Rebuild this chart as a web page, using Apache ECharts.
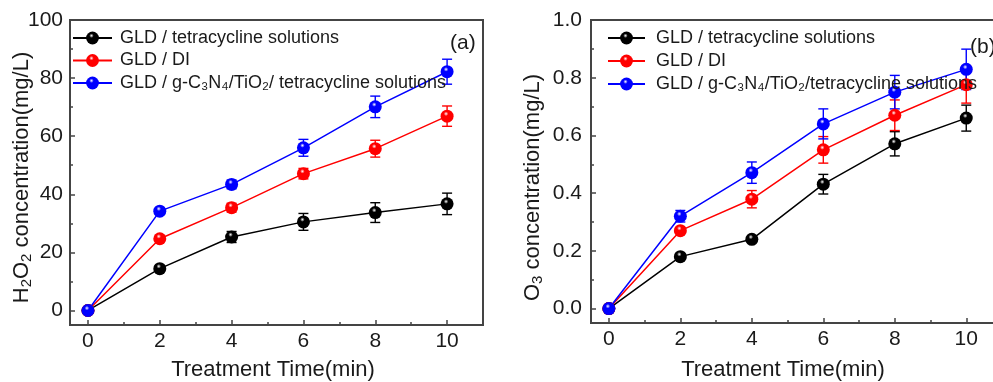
<!DOCTYPE html>
<html>
<head>
<meta charset="utf-8">
<script src="https://cdn.jsdelivr.net/npm/echarts@6/dist/echarts.min.js"></script>
<style>html,body{margin:0;padding:0;background:#fff}#c{width:993px;height:382px}</style>
</head>
<body>
<div id="c"></div>
<script>
// ---- data ----
const xValues = [0, 2, 4, 6, 8, 10];
const xTicks = [0, 2, 4, 6, 8, 10];
const xMinorTicks = [1, 3, 5, 7, 9];
const h2o2Ticks = [0, 20, 40, 60, 80, 100];
const h2o2MinorTicks = [10, 30, 50, 70, 90];
const o3Ticks = [0, 0.2, 0.4, 0.6, 0.8, 1.0];
const o3MinorTicks = [0.1, 0.3, 0.5, 0.7, 0.9];

const nameBlack = 'GLD / tetracycline solutions';
const nameRed = 'GLD / DI';
const nameBlueA = 'GLD / g-C\u2083N\u2084/TiO\u2082/ tetracycline solutions';
const nameBlueB = 'GLD / g-C\u2083N\u2084/TiO\u2082/tetracycline solutions';

const h2o2Black = [0, 14.4, 25.3, 30.5, 33.7, 36.7];
const h2o2BlackErr = [0.5, 1.0, 1.9, 2.9, 3.4, 3.7];
const h2o2Red = [0, 24.7, 35.4, 47.1, 55.7, 66.9];
const h2o2RedErr = [0.5, 1.0, 1.5, 1.8, 2.9, 3.5];
const h2o2Blue = [0, 34.2, 43.4, 56.0, 70.1, 82.2];
const h2o2BlueErr = [0.5, 1.0, 1.5, 2.9, 3.7, 4.3];

const o3Black = [0, 0.18, 0.24, 0.431, 0.571, 0.66];
const o3BlackErr = [0.005, 0.01, 0.01, 0.034, 0.042, 0.045];
const o3Red = [0, 0.27, 0.379, 0.55, 0.67, 0.776];
const o3RedErr = [0.005, 0.01, 0.03, 0.046, 0.053, 0.064];
const o3Blue = [0, 0.32, 0.471, 0.64, 0.75, 0.829];
const o3BlueErr = [0.005, 0.02, 0.037, 0.052, 0.058, 0.07];

// ---- styling helpers ----
const FONT = "'Liberation Sans', Arial, sans-serif";
const TXT = '#1a1a1a';
const AX = '#444';
const BLACK = '#000000', RED = '#ff0000', BLUE = '#0000ff';

function sphere(c) {
  return {
    type: 'radial', x: 0.42, y: 0.32, r: 0.62,
    colorStops: [
      { offset: 0, color: '#ffffff' },
      { offset: 0.28, color: c },
      { offset: 1, color: c }
    ]
  };
}

const richName = {
  n: { fontSize: 22, lineHeight: 24, color: TXT, fontFamily: FONT },
  s: { fontSize: 15, lineHeight: 7, verticalAlign: 'bottom', color: TXT, fontFamily: FONT }
};

function mainX(grid, nameShift, nameGap) {
  return {
    type: 'value', gridIndex: grid, min: -0.5, max: 11,
    name: '{n|Treatment Time(min)}', nameLocation: 'middle', nameGap: nameGap, nameMoveOverlap: false,
    nameTextStyle: { rich: richName, padding: [0, nameShift, 0, 0] },
    axisLine: { show: true, onZero: false, lineStyle: { color: AX, width: 2 } },
    axisTick: { show: true, inside: true, length: 5, customValues: xTicks, lineStyle: { color: AX, width: 1.5 } },
    axisLabel: { customValues: xTicks, fontSize: 21, margin: 6, color: TXT, fontFamily: FONT },
    splitLine: { show: false }
  };
}
function minorX(grid) {
  return {
    type: 'value', gridIndex: grid, min: -0.5, max: 11, position: 'bottom',
    axisLine: { show: false, onZero: false },
    axisTick: { show: true, inside: true, length: 3, customValues: xMinorTicks, lineStyle: { color: AX, width: 1.5 } },
    axisLabel: { show: false }, splitLine: { show: false }
  };
}
function mainY(grid, min, max, ticks, name, nameGap, nameShift, margin, fmt) {
  return {
    type: 'value', gridIndex: grid, min: min, max: max, position: 'left',
    name: name, nameLocation: 'middle', nameGap: nameGap, nameMoveOverlap: false,
    nameTextStyle: { rich: richName, padding: [0, nameShift, 0, 0] },
    axisLine: { show: true, onZero: false, lineStyle: { color: AX, width: 2 } },
    axisTick: { show: true, inside: true, length: 5, customValues: ticks, lineStyle: { color: AX, width: 1.5 } },
    axisLabel: { customValues: ticks, fontSize: 21, margin: margin, color: TXT, fontFamily: FONT, formatter: fmt },
    splitLine: { show: false }
  };
}
function minorY(grid, min, max, ticks) {
  return {
    type: 'value', gridIndex: grid, min: min, max: max, position: 'left',
    axisLine: { show: false, onZero: false },
    axisTick: { show: true, inside: true, length: 3, customValues: ticks, lineStyle: { color: AX, width: 1.5 } },
    axisLabel: { show: false }, splitLine: { show: false }
  };
}

function lineSeries(name, xi, yi, vals, color) {
  return {
    type: 'line', name: name, xAxisIndex: xi, yAxisIndex: yi, z: 3,
    data: xValues.map((x, i) => [x, vals[i]]),
    symbol: 'circle', symbolSize: 13, showSymbol: true,
    lineStyle: { color: color, width: 1.5 },
    itemStyle: { color: sphere(color) },
    emphasis: { disabled: true }, animation: false
  };
}
function errSeries(name, xi, yi, vals, errs, color) {
  return {
    type: 'custom', name: name + ' err', xAxisIndex: xi, yAxisIndex: yi, z: 2,
    data: xValues.map((x, i) => [x, vals[i] - errs[i], vals[i] + errs[i]]),
    renderItem: function (params, api) {
      const x = api.value(0);
      const lo = api.coord([x, api.value(1)]);
      const hi = api.coord([x, api.value(2)]);
      const hw = 5;
      const st = { stroke: color, lineWidth: 1.4 };
      return {
        type: 'group', children: [
          { type: 'line', shape: { x1: lo[0], y1: lo[1], x2: hi[0], y2: hi[1] }, style: st },
          { type: 'line', shape: { x1: lo[0] - hw, y1: lo[1], x2: lo[0] + hw, y2: lo[1] }, style: st },
          { type: 'line', shape: { x1: hi[0] - hw, y1: hi[1], x2: hi[0] + hw, y2: hi[1] }, style: st }
        ]
      };
    },
    silent: true, animation: false
  };
}

const legendText = { fontSize: 18, lineHeight: 18, color: TXT, fontFamily: FONT };

const option = {
  backgroundColor: '#fff',
  animation: false,
  textStyle: { fontFamily: FONT },
  title: [
    { text: '(a)', left: 450, top: 33, padding: 0, textStyle: { fontSize: 21, fontWeight: 'normal', color: TXT, fontFamily: FONT } },
    { text: '(b)', left: 970, top: 37, padding: 0, textStyle: { fontSize: 21, fontWeight: 'normal', color: TXT, fontFamily: FONT } }
  ],
  grid: [
    { left: 70, top: 20, right: 510, bottom: 57, outerBoundsMode: 'none', containLabel: false, show: true, borderColor: AX, borderWidth: 2, backgroundColor: 'transparent' },
    { left: 591, top: 20, right: -9, bottom: 59, outerBoundsMode: 'none', containLabel: false, show: true, borderColor: AX, borderWidth: 2, backgroundColor: 'transparent' }
  ],
  legend: [
    {
      orient: 'vertical', left: 72, top: 29, padding: 0, itemWidth: 39, itemHeight: 16, itemGap: 4.5,
      data: [nameBlack, nameRed, nameBlueA],
      textStyle: Object.assign({ padding: [0, 0, 0, 3] }, legendText), selectedMode: false
    },
    {
      orient: 'vertical', left: 607, top: 29, padding: 0, itemWidth: 37, itemHeight: 16, itemGap: 5,
      data: [nameBlack, nameRed, nameBlueB],
      textStyle: Object.assign({ padding: [0, 0, 0, 6] }, legendText), selectedMode: false
    }
  ],
  xAxis: [mainX(0, 7, 33), minorX(0), mainX(1, 27, 35), minorX(1)],
  yAxis: [
    mainY(0, -5, 100, h2o2Ticks, '{n|H}{s|2}{n|O}{s|2}{n| concentration(mg/L)}', 36, 10, 7, null),
    minorY(0, -5, 100, h2o2MinorTicks),
    mainY(1, -0.05, 1.0, o3Ticks, '{n|O}{s|3}{n| concentration(mg/L)}', 46, 32, 9, v => v.toFixed(1)),
    minorY(1, -0.05, 1.0, o3MinorTicks)
  ],
  series: [
    errSeries(nameBlack, 0, 0, h2o2Black, h2o2BlackErr, BLACK),
    errSeries(nameRed, 0, 0, h2o2Red, h2o2RedErr, RED),
    errSeries(nameBlueA, 0, 0, h2o2Blue, h2o2BlueErr, BLUE),
    lineSeries(nameBlack, 0, 0, h2o2Black, BLACK),
    lineSeries(nameRed, 0, 0, h2o2Red, RED),
    lineSeries(nameBlueA, 0, 0, h2o2Blue, BLUE),
    errSeries(nameBlack, 2, 2, o3Black, o3BlackErr, BLACK),
    errSeries(nameRed, 2, 2, o3Red, o3RedErr, RED),
    errSeries(nameBlueB, 2, 2, o3Blue, o3BlueErr, BLUE),
    lineSeries(nameBlack, 2, 2, o3Black, BLACK),
    lineSeries(nameRed, 2, 2, o3Red, RED),
    lineSeries(nameBlueB, 2, 2, o3Blue, BLUE)
  ]
};

const chart = echarts.init(document.getElementById('c'), null, { renderer: 'canvas' });
chart.setOption(option);
</script>
</body>
</html>
